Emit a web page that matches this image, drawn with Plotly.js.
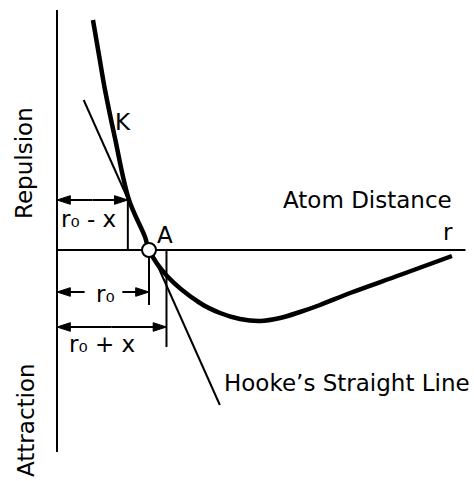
<!DOCTYPE html>
<html>
<head>
<meta charset="utf-8">
<script src="https://cdn.plot.ly/plotly-3.0.1.min.js"></script>
<style>
  html, body { margin: 0; padding: 0; background: #fff; }
  #chart { width: 474px; height: 481px; }
</style>
</head>
<body>
<div id="chart"></div>
<script>
// Interatomic force curve (r in units of r0, force in arbitrary units)
const curveR = [0.391, 0.460, 0.522, 0.630, 0.783, 0.957, 1.0, 1.196, 1.554, 1.772, 1.989, 2.207, 2.424, 2.641, 2.859, 3.185, 3.728, 4.293];
const curveF = [2.30, 1.93, 1.60, 1.12, 0.50, 0.13, 0.0, -0.26, -0.53, -0.63, -0.69, -0.71, -0.68, -0.62, -0.55, -0.43, -0.25, -0.06];

// Hooke's straight line (tangent at A)
const hookeR = [0.29, 1.77];
const hookeF = [1.50, -1.55];

// Equilibrium point A
const pointR = [1.0];
const pointF = [0.0];

// Dimension markers: r0 - x, r0, r0 + x
const dimLabels = ["r\u2080 - x", "r\u2080", "r\u2080 + x"];
const dimR = [0.77, 1.0, 1.19];

// Axis extents
const axisTop = 2.40, axisBottom = -2.02, axisRight = 4.44;

const FONT = "DejaVu Sans, Liberation Sans, sans-serif";
const black = "#000";

// dimension line heights and tick depths
const dimY = [0.5, -0.42, -0.77];
const tickEnd = [0.5, -0.55, -0.97];

const traces = [
  { x: hookeR, y: hookeF, mode: "lines", line: { color: black, width: 2 }, hoverinfo: "skip" },
  { x: curveR, y: curveF, mode: "lines", line: { color: black, width: 4.5, shape: "spline", smoothing: 1 }, hoverinfo: "skip" }
];

// one arrow segment: line from tail to head, arrowhead at head
function arrow(tail, head, y) {
  return {
    x: [tail, head], y: [y, y], mode: "lines+markers", hoverinfo: "skip",
    line: { color: black, width: 2 },
    marker: { symbol: "arrow", angleref: "previous", size: [0, 14], color: black, opacity: 1,
              line: { color: black, width: 1 } }
  };
}
// r0 - x and r0 + x: double-headed, split at the middle
[0, 2].forEach(i => {
  const mid = dimR[i] / 2;
  traces.push(arrow(mid, 0, dimY[i]));
  traces.push(arrow(mid, dimR[i], dimY[i]));
});
// r0: broken around its label
traces.push(arrow(0.30, 0, dimY[1]));
traces.push(arrow(0.71, dimR[1], dimY[1]));

// point A drawn last so it sits on top
traces.push({ x: pointR, y: pointF, mode: "markers", hoverinfo: "skip",
  marker: { size: 14, color: "#fff", line: { color: black, width: 2 } } });

const shapes = [
  // vertical force axis
  { type: "line", layer: "below", xref: "x", yref: "y", x0: 0, x1: 0, y0: axisBottom, y1: axisTop, line: { color: black, width: 2 } },
  // horizontal distance axis
  { type: "line", layer: "below", xref: "x", yref: "y", x0: 0, x1: axisRight, y0: 0, y1: 0, line: { color: black, width: 2 } }
];
// vertical ticks at the three distances
dimR.forEach((r, i) => {
  shapes.push({ type: "line", layer: "below", xref: "x", yref: "y", x0: r, x1: r, y0: 0, y1: tickEnd[i], line: { color: black, width: 2 } });
});

const textStyle = { showarrow: false, font: { family: FONT, size: 23, color: black }, xref: "x", yref: "y" };
const labels = [
  { text: dimLabels[0], x: 0.337, y: 0.31 },
  { text: dimLabels[1], x: 0.522, y: -0.44 },
  { text: dimLabels[2], x: 0.489, y: -0.94 },
  { text: "K", x: 0.72, y: 1.28 },
  { text: "A", x: 1.174, y: 0.15 },
  { text: "r", x: 4.25, y: 0.18 },
  { text: "Atom Distance", x: 3.38, y: 0.50 },
  { text: "Hooke\u2019s Straight Line", x: 1.79, y: -1.33, xanchor: "left" },
  { text: "Repulsion", x: -0.359, y: 0.87, textangle: -90 },
  { text: "Attraction", x: -0.337, y: -1.70, textangle: -90 }
];
const annotations = labels.map(l => Object.assign({}, textStyle, l));

const layout = {
  width: 474, height: 481,
  margin: { l: 0, r: 0, t: 0, b: 0 },
  paper_bgcolor: "#fff", plot_bgcolor: "#fff",
  showlegend: false,
  xaxis: { range: [-0.6196, 4.5326], visible: false, fixedrange: true },
  yaxis: { range: [-2.31, 2.50], visible: false, fixedrange: true },
  shapes: shapes,
  annotations: annotations
};

Plotly.newPlot("chart", traces, layout, { staticPlot: true, displayModeBar: false });
</script>
</body>
</html>
